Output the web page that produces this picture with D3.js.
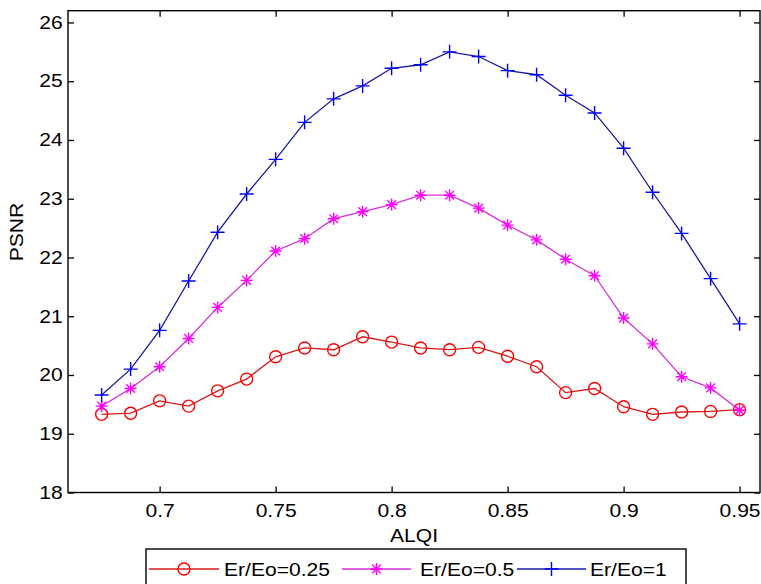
<!DOCTYPE html>
<html>
<head>
<meta charset="utf-8">
<script src="https://cdn.jsdelivr.net/npm/d3@7.9.0/dist/d3.min.js"></script>
<style>
  body { margin: 0; background: #fff; }
  svg { display: block; font-family: "Liberation Sans", Arial, sans-serif; }
</style>
</head>
<body>
<svg id="chart" width="761" height="584"></svg>
<script>
// ---- data ----
const alqi = [0.675, 0.6875, 0.7, 0.7125, 0.725, 0.7375, 0.75, 0.7625, 0.775, 0.7875, 0.8, 0.8125,
  0.825, 0.8375, 0.85, 0.8625, 0.875, 0.8875, 0.9, 0.9125, 0.925, 0.9375, 0.95];
const psnr025 = [19.33, 19.35, 19.56, 19.47, 19.73, 19.93, 20.31, 20.46, 20.43, 20.65, 20.56, 20.46,
  20.43, 20.47, 20.32, 20.14, 19.70, 19.77, 19.46, 19.33, 19.37, 19.38, 19.41];
const psnr05 = [19.47, 19.77, 20.14, 20.62, 21.15, 21.61, 22.11, 22.32, 22.66, 22.78, 22.90, 23.06,
  23.06, 22.84, 22.55, 22.30, 21.97, 21.69, 20.97, 20.53, 19.97, 19.78, 19.40];
const psnr1 = [19.66, 20.10, 20.76, 21.60, 22.43, 23.08, 23.67, 24.30, 24.70, 24.92, 25.22, 25.28,
  25.50, 25.42, 25.18, 25.11, 24.76, 24.46, 23.86, 23.11, 22.41, 21.64, 20.87];
const seriesNames = ['Er/Eo=0.25', 'Er/Eo=0.5', 'Er/Eo=1'];
const xTicks = [0.7, 0.75, 0.8, 0.85, 0.9, 0.95];
const yTicks = [18, 19, 20, 21, 22, 23, 24, 25, 26];

const series = [
  { name: seriesNames[0], values: psnr025, color: '#ff0000', line: '#d81818', marker: 'circle' },
  { name: seriesNames[1], values: psnr05, color: '#ff00ff', line: '#d830d8', marker: 'star' },
  { name: seriesNames[2], values: psnr1, color: '#0000ff', line: '#1a1aa8', marker: 'plus' }
];

// ---- layout ----
const plotLeft = 68, plotRight = 760, plotTop = 10.7, plotBottom = 492.5;
const x = d3.scaleLinear().domain([0.6605, 0.9588]).range([plotLeft, plotRight]);
const y = d3.scaleLinear().domain([18, 26.2]).range([plotBottom, plotTop]);

const svg = d3.select('#chart');

// the original figure's text is a bit wide, stretch it horizontally
const fontSize = 18;
const stretch = 1.17;

// marker path generators
function markerPath(type, r) {
  if (type === 'plus') {
    return `M${-r},0H${r}M0,${-r}V${r}`;
  }
  if (type === 'star') {
    const d = r * 0.72;
    return `M${-r},0H${r}M0,${-r}V${r}M${-d},${-d}L${d},${d}M${-d},${d}L${d},${-d}`;
  }
  return '';
}

function drawMarker(g, type, color, cx, cy) {
  if (type === 'circle') {
    g.append('circle')
      .attr('cx', cx).attr('cy', cy).attr('r', 6)
      .attr('fill', 'none').attr('stroke', color).attr('stroke-width', 1.4);
  } else {
    g.append('path')
      .attr('d', markerPath(type, type === 'plus' ? 7 : 6))
      .attr('transform', `translate(${cx},${cy})`)
      .attr('fill', 'none').attr('stroke', color).attr('stroke-width', 1.4);
  }
}

// ---- axes ----
const axisStyle = (g) => {
  g.select('.domain').remove();
  g.selectAll('line').attr('stroke', '#000').attr('stroke-width', 1.3);
  g.selectAll('text').attr('fill', '#000').style('font-size', fontSize + 'px')
    .attr('font-family', '"Liberation Sans", Arial, sans-serif')
    .attr('transform', `scale(${stretch},1)`);
};

svg.append('g')
  .attr('transform', `translate(0,${plotBottom})`)
  .call(d3.axisBottom(x).tickValues(xTicks).tickSize(-6).tickSizeOuter(0).tickPadding(12).tickFormat(d3.format('')))
  .call(axisStyle);

svg.append('g')
  .attr('transform', `translate(0,${plotTop})`)
  .call(d3.axisTop(x).tickValues(xTicks).tickSize(-6).tickSizeOuter(0).tickFormat(''))
  .call(axisStyle);

svg.append('g')
  .attr('transform', `translate(${plotLeft},0)`)
  .call(d3.axisLeft(y).tickValues(yTicks).tickSize(-6).tickSizeOuter(0).tickPadding(4.5))
  .call(axisStyle);

svg.append('g')
  .attr('transform', `translate(${plotRight},0)`)
  .call(d3.axisRight(y).tickValues(yTicks).tickSize(-6).tickSizeOuter(0).tickFormat(''))
  .call(axisStyle);

svg.append('rect')
  .attr('x', plotLeft).attr('y', plotTop)
  .attr('width', plotRight - plotLeft).attr('height', plotBottom - plotTop)
  .attr('fill', 'none').attr('stroke', '#000').attr('stroke-width', 1.4);

// axis labels
svg.append('text')
  .attr('transform', `translate(${(plotLeft + plotRight) / 2},542) scale(${stretch},1)`)
  .attr('text-anchor', 'middle')
  .style('font-size', fontSize + 'px')
  .text('ALQI');

svg.append('text')
  .attr('transform', `translate(23,232) rotate(-90) scale(${stretch},1)`)
  .attr('text-anchor', 'middle')
  .style('font-size', fontSize + 'px')
  .text('PSNR');

// ---- series ----
const line = d3.line().x((d, i) => x(alqi[i])).y((d) => y(d));

series.forEach((s) => {
  const g = svg.append('g');
  g.append('path')
    .attr('d', line(s.values))
    .attr('fill', 'none')
    .attr('stroke', s.line)
    .attr('stroke-width', 1.3);
  s.values.forEach((v, i) => drawMarker(g, s.marker, s.color, x(alqi[i]), y(v)));
});

// ---- legend ----
const legend = svg.append('g');
legend.append('rect')
  .attr('x', 146).attr('y', 549)
  .attr('width', 540).attr('height', 45)
  .attr('fill', '#fff').attr('stroke', '#000').attr('stroke-width', 1.4);

const legendItems = [
  { x0: 149, x1: 219, tx: 224 },
  { x0: 342, x1: 411, tx: 420 },
  { x0: 517, x1: 586, tx: 590 }
];
series.forEach((s, i) => {
  const it = legendItems[i];
  const ly = 569;
  legend.append('line')
    .attr('x1', it.x0).attr('x2', it.x1).attr('y1', ly).attr('y2', ly)
    .attr('stroke', s.line).attr('stroke-width', 1.3);
  drawMarker(legend, s.marker, s.color, (it.x0 + it.x1) / 2, ly);
  legend.append('text')
    .attr('transform', `translate(${it.tx},576) scale(${stretch},1)`)
    .style('font-size', fontSize + 'px')
    .text(s.name);
});
</script>
</body>
</html>
